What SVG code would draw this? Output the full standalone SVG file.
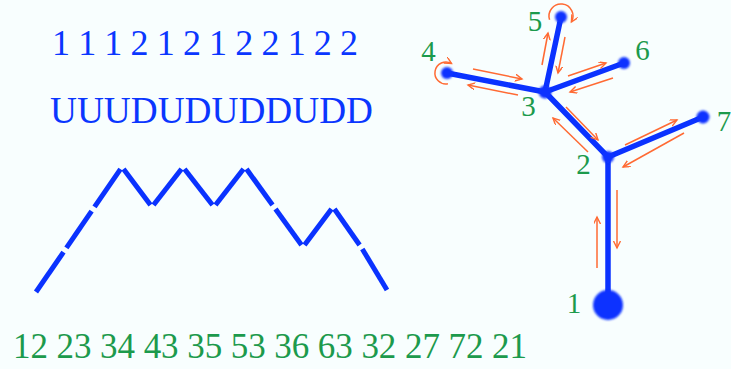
<svg xmlns="http://www.w3.org/2000/svg" width="731" height="369" viewBox="0 0 731 369">
  <defs>
    <style>
      .seq { font-family: "Liberation Serif", "Times New Roman", serif; fill: #0a36ff; }
      .pairs { font-family: "Liberation Serif", "Times New Roman", serif; fill: #1c9a4c; font-size: 35px; }
      .lab { font-family: "Liberation Serif", "Times New Roman", serif; fill: #1c9a4c; font-size: 29px; text-anchor: middle; }
      .zig line { stroke: #0a32ff; stroke-width: 5; stroke-linecap: butt; }
      .edge { stroke: #0a32ff; stroke-width: 5.5; stroke-linecap: round; fill: none; }
      .node { fill: #0a32ff; filter: url(#soft); }
      .arr { stroke: #ff6a33; stroke-width: 1.5; fill: none; marker-end: url(#ah); }
    </style>
    <filter id="soft" x="-50%" y="-50%" width="200%" height="200%">
      <feGaussianBlur stdDeviation="0.8"/>
    </filter>
    <marker id="ah" markerUnits="userSpaceOnUse" markerWidth="10" markerHeight="10" refX="7" refY="3.5" orient="auto">
      <path d="M0,0 L7,3.5 L0,7" fill="none" stroke="#ff6a33" stroke-width="1.4"/>
    </marker>
  </defs>
  <rect x="0" y="0" width="731" height="369" fill="#f8fefe"/>

  <g id="sequence-digits">
    <text class="seq" x="52" y="55" font-size="36" textLength="306" lengthAdjust="spacing">1 1 1 2 1 2 1 2 2 1 2 2</text>
  </g>
  <g id="sequence-letters">
    <text class="seq" x="50" y="123" font-size="37" textLength="323" lengthAdjust="spacingAndGlyphs">UUUDUDUDDUDD</text>
  </g>

  <g id="mountain" class="zig">
    <line x1="36" y1="292" x2="63.5" y2="252.1"/>
    <line x1="66.4" y1="247.9" x2="91.6" y2="211.1"/>
    <line x1="94.5" y1="206.9" x2="120.5" y2="169.1"/>
    <line x1="123.5" y1="169" x2="150.5" y2="205"/>
    <line x1="153.5" y1="205" x2="181.5" y2="169"/>
    <line x1="184.5" y1="169" x2="212.5" y2="205"/>
    <line x1="215.5" y1="205" x2="243.5" y2="169"/>
    <line x1="246.5" y1="169" x2="272.5" y2="205"/>
    <line x1="275.5" y1="209" x2="301.5" y2="245"/>
    <line x1="304.5" y1="245" x2="331.5" y2="209"/>
    <line x1="334.4" y1="209" x2="359.6" y2="245"/>
    <line x1="362.3" y1="249" x2="387" y2="290"/>
  </g>

  <g id="pairs">
    <text class="pairs" x="13" y="358" textLength="514" lengthAdjust="spacing">12 23 34 43 35 53 36 63 32 27 72 21</text>
  </g>

  <g id="connectors">
    <line class="edge" x1="608" y1="305" x2="608" y2="157"/>
    <line class="edge" x1="608" y1="157" x2="545" y2="92"/>
    <line class="edge" x1="545" y1="92" x2="447" y2="73"/>
    <line class="edge" x1="545" y1="92" x2="561" y2="17"/>
    <line class="edge" x1="545" y1="92" x2="624" y2="63"/>
    <line class="edge" x1="608" y1="157" x2="703" y2="117"/>

    <line class="arr" x1="597" y1="268" x2="597" y2="217"/>
    <line class="arr" x1="617" y1="190" x2="617" y2="248"/>
    <line class="arr" x1="566" y1="107" x2="598" y2="140"/>
    <line class="arr" x1="588" y1="152" x2="553" y2="118"/>
    <line class="arr" x1="473" y1="69" x2="522" y2="79"/>
    <line class="arr" x1="518" y1="95" x2="468" y2="85"/>
    <line class="arr" x1="542" y1="65" x2="548" y2="33"/>
    <line class="arr" x1="565" y1="37" x2="558" y2="73"/>
    <line class="arr" x1="568" y1="76" x2="606" y2="63"/>
    <line class="arr" x1="613" y1="78" x2="570" y2="92"/>
    <line class="arr" x1="625" y1="145" x2="677" y2="120"/>
    <line class="arr" x1="684" y1="133" x2="623" y2="167"/>
    <path class="arr" d="M 447.9 83.8 A 11 11 0 1 1 451.5 63.5"/>
    <path class="arr" d="M 549.6 19.7 A 12 12 0 1 1 571.4 22"/>
  </g>

  <g id="node-1"><circle class="node" cx="608" cy="305" r="15"/><text class="lab" x="574" y="313">1</text></g>
  <g id="node-2"><circle class="node" cx="608" cy="157" r="6"/><text class="lab" x="583.5" y="174">2</text></g>
  <g id="node-3"><circle class="node" cx="545" cy="92" r="6.5"/><text class="lab" x="528.5" y="116">3</text></g>
  <g id="node-4"><circle class="node" cx="447" cy="73" r="6"/><text class="lab" x="428.5" y="61">4</text></g>
  <g id="node-5"><circle class="node" cx="561" cy="17" r="6"/><text class="lab" x="535" y="31">5</text></g>
  <g id="node-6"><circle class="node" cx="624" cy="63" r="6"/><text class="lab" x="642.5" y="60">6</text></g>
  <g id="node-7"><circle class="node" cx="703" cy="117" r="6.5"/><text class="lab" x="724" y="131">7</text></g>
</svg>
